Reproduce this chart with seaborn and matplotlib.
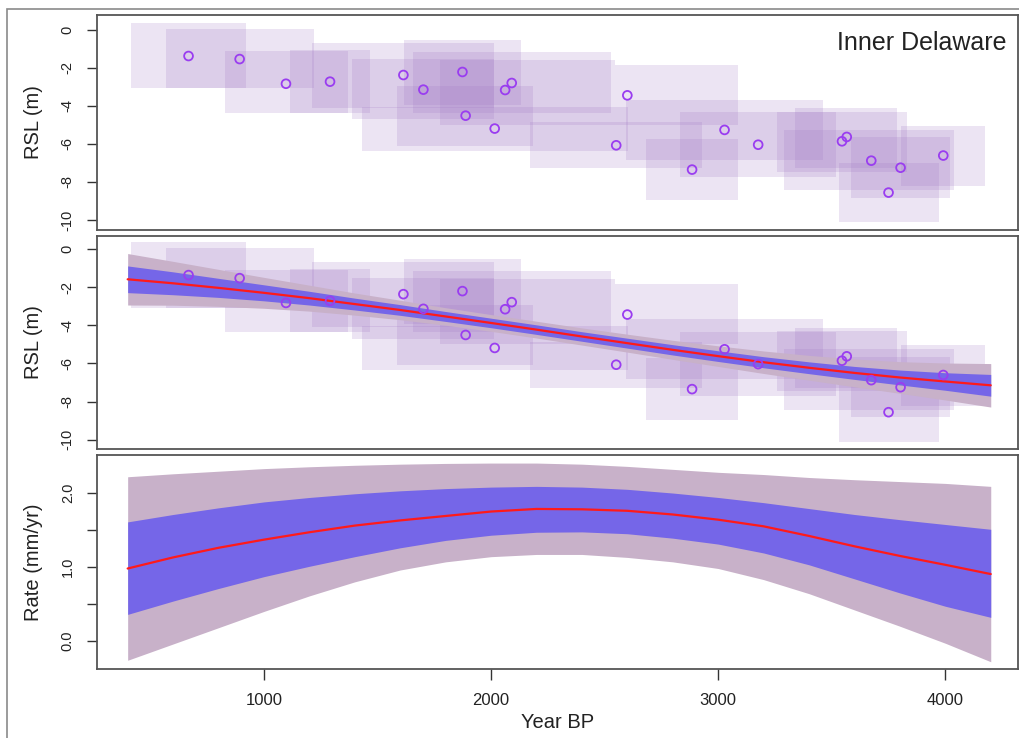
import numpy as np
import pandas as pd
import matplotlib
matplotlib.use("Agg")
import matplotlib.pyplot as plt
from matplotlib.patches import Rectangle
import seaborn as sns

# --- data ---
age = [668, 893, 1097, 1291, 1614, 1702, 1874, 1888, 2016, 2062, 2091,
       2600, 2551, 2885, 3028, 3176, 3545, 3566, 3674, 3803, 3750, 3991]
rsl = [-1.37, -1.53, -2.83, -2.72, -2.37, -3.14, -2.21, -4.51, -5.19, -3.16, -2.79,
       -3.44, -6.07, -7.35, -5.26, -6.04, -5.86, -5.63, -6.88, -7.25, -8.56, -6.61]

# uncertainty boxes
age_lo = [414, 567, 830, 1115, 1211, 1388, 1617, 1587, 1430, 1775, 1655,
          2546, 2172, 2683, 2595, 2832, 3258, 3339, 3291, 3586, 3530, 3805]
age_hi = [921, 1219, 1369, 1467, 2013, 2013, 2132, 2186, 2602, 2546, 2529,
          3087, 2928, 3089, 3461, 3520, 3831, 3787, 4039, 4022, 3970, 4175]
rsl_hi = [0.35, 0.05, -1.09, -1.06, -0.70, -1.54, -0.53, -2.93, -4.04, -1.58, -1.17,
          -1.84, -4.86, -5.74, -3.68, -4.33, -4.30, -4.12, -5.26, -5.65, -6.98, -5.04]
rsl_lo = [-3.07, -3.07, -4.38, -4.38, -4.09, -4.70, -3.95, -6.11, -6.35, -5.00, -4.38,
          -5.00, -7.28, -8.95, -6.84, -7.72, -7.46, -7.28, -8.45, -8.83, -10.12, -8.21]

# model fit (middle panel)
grid = [400, 600, 800, 1000, 1200, 1400, 1600, 1800, 2000, 2200,
        2400, 2600, 2800, 3000, 3200, 3400, 3600, 3800, 4000, 4200]
fit_mean = [-1.59, -1.80, -2.04, -2.30, -2.58, -2.89, -3.20, -3.54, -3.88, -4.23,
            -4.59, -4.94, -5.29, -5.62, -5.94, -6.23, -6.50, -6.74, -6.95, -7.15]
fit_half50 = [0.70, 0.60, 0.50, 0.42, 0.36, 0.31, 0.28, 0.26, 0.25, 0.25,
              0.25, 0.26, 0.27, 0.28, 0.29, 0.31, 0.34, 0.39, 0.46, 0.57]
fit_half95 = [1.35, 1.15, 0.97, 0.81, 0.68, 0.58, 0.51, 0.46, 0.44, 0.44,
              0.45, 0.47, 0.50, 0.54, 0.59, 0.65, 0.73, 0.83, 0.97, 1.14]

# rate (bottom panel)
rate_mean = [0.98, 1.13, 1.26, 1.37, 1.47, 1.56, 1.63, 1.69, 1.75, 1.785,
             1.78, 1.76, 1.71, 1.64, 1.55, 1.42, 1.28, 1.15, 1.03, 0.905]
rate_in_hi = [1.61, 1.71, 1.80, 1.88, 1.94, 1.99, 2.03, 2.06, 2.08, 2.09,
              2.08, 2.05, 2.00, 1.94, 1.87, 1.79, 1.71, 1.64, 1.575, 1.51]
rate_in_lo = [0.36, 0.54, 0.71, 0.87, 1.01, 1.14, 1.26, 1.36, 1.43, 1.47,
              1.475, 1.45, 1.39, 1.31, 1.19, 1.03, 0.84, 0.65, 0.47, 0.32]
rate_out_hi = [2.22, 2.26, 2.295, 2.33, 2.355, 2.375, 2.39, 2.40, 2.405, 2.405,
               2.39, 2.36, 2.32, 2.28, 2.25, 2.21, 2.18, 2.155, 2.13, 2.09]
rate_out_lo = [-0.26, -0.04, 0.18, 0.40, 0.61, 0.80, 0.96, 1.07, 1.14, 1.17,
               1.17, 1.13, 1.07, 0.98, 0.83, 0.64, 0.42, 0.20, -0.03, -0.28]

rsl_ticks = [0, -2, -4, -6, -8, -10]
rate_ticks = [0.0, 0.5, 1.0, 1.5, 2.0]
rate_labels = ["0.0", "", "1.0", "", "2.0"]
year_ticks = [1000, 2000, 3000, 4000]

df_pts = pd.DataFrame({"age": age, "rsl": rsl})
df_fit = pd.DataFrame({"age": grid, "mean": fit_mean})
df_rate = pd.DataFrame({"age": grid, "rate": rate_mean})

# --- style ---
sns.set_theme(style="white")
plt.rcParams['font.family'] = ['Liberation Sans', 'DejaVu Sans']
plt.rcParams['axes.unicode_minus'] = False

BOX_COL = "#a078c3"
PT_COL = "#9a3df0"
OUTER = "#c8b1c9"
INNER = "#7566e8"
FRAME = "#555555"

fig = plt.figure(figsize=(10.19, 7.38), dpi=100)
W, H = 1019.0, 738.0
left = 97 / W
width = (1018 - 97) / W
ax1 = fig.add_axes([left, 1 - 230 / H, width, 215 / H])
ax2 = fig.add_axes([left, 1 - 449 / H, width, 213 / H])
ax3 = fig.add_axes([left, 1 - 669 / H, width, 214 / H])

# outer grey frame of the whole device
fig.patches.append(Rectangle((7 / W, -0.05), 1.2, 1 - 9 / H + 0.05, fill=False,
                             edgecolor="#8a8a8a", linewidth=1.2, transform=fig.transFigure))


def draw_boxes(ax):
    widths = np.array(age_hi) - np.array(age_lo)
    heights = np.array(rsl_hi) - np.array(rsl_lo)
    ax.bar(age_lo, heights, width=widths, bottom=rsl_lo, align="edge",
           color=BOX_COL, alpha=0.2, linewidth=0, zorder=1)


def draw_points(ax):
    sns.scatterplot(data=df_pts, x="age", y="rsl", ax=ax, marker="o", s=40,
                    facecolor="none", edgecolor=PT_COL, linewidth=1.3, zorder=5)


def style_axis(ax, ylabel):
    for sp in ax.spines.values():
        sp.set_color(FRAME)
        sp.set_linewidth(1.3)
        sp.set_visible(True)
    ax.set_xlim(265, 4320)
    ax.tick_params(axis="y", direction="out", length=7, width=1, color="#333333",
                   labelsize=10.5, pad=9, left=True, labelcolor="#222222")
    ax.set_ylabel(ylabel, fontsize=14.5, color="#222222")
    ax.yaxis.set_label_coords(-0.059, 0.5)
    for lab in ax.get_yticklabels():
        lab.set_rotation(90)
        lab.set_va("center")
    ax.set_xlabel("")


# === top panel: data only ===
draw_boxes(ax1)
draw_points(ax1)
ax1.set_ylim(-10.53, 0.79)
ax1.set_yticks(rsl_ticks)
ax1.set_xticks([])
style_axis(ax1, "RSL (m)")
ax1.text(0.988, 0.87, "Inner Delaware", transform=ax1.transAxes, ha="right",
         va="center", fontsize=18, color="#222222")

# === middle panel: data + fit ===
draw_boxes(ax2)
m = np.array(fit_mean)
ax2.fill_between(grid, m - np.array(fit_half95), m + np.array(fit_half95),
                 color=OUTER, linewidth=0, zorder=2)
ax2.fill_between(grid, m - np.array(fit_half50), m + np.array(fit_half50),
                 color=INNER, linewidth=0, zorder=3)
sns.lineplot(data=df_fit, x="age", y="mean", ax=ax2, color="#ff1a1a", linewidth=1.6, zorder=4)
draw_points(ax2)
ax2.set_ylim(-10.49, 0.68)
ax2.set_yticks(rsl_ticks)
ax2.set_xticks([])
style_axis(ax2, "RSL (m)")

# === bottom panel: rate ===
ax3.fill_between(grid, rate_out_lo, rate_out_hi, color=OUTER, linewidth=0, zorder=2)
ax3.fill_between(grid, rate_in_lo, rate_in_hi, color=INNER, linewidth=0, zorder=3)
sns.lineplot(data=df_rate, x="age", y="rate", ax=ax3, color="#ff1a1a", linewidth=1.6, zorder=4)
ax3.set_ylim(-0.378, 2.514)
ax3.set_yticks(rate_ticks)
ax3.set_yticklabels(rate_labels)
style_axis(ax3, "Rate (mm/yr)")
ax3.set_xticks(year_ticks)
ax3.tick_params(axis="x", direction="out", length=8, width=1, color="#333333",
                labelsize=12, pad=9, bottom=True, labelcolor="#222222")
ax3.set_xlabel("Year BP", fontsize=14.5, color="#222222")
ax3.xaxis.set_label_coords(0.5, -0.205)

fig.savefig("out.png", dpi=100)
